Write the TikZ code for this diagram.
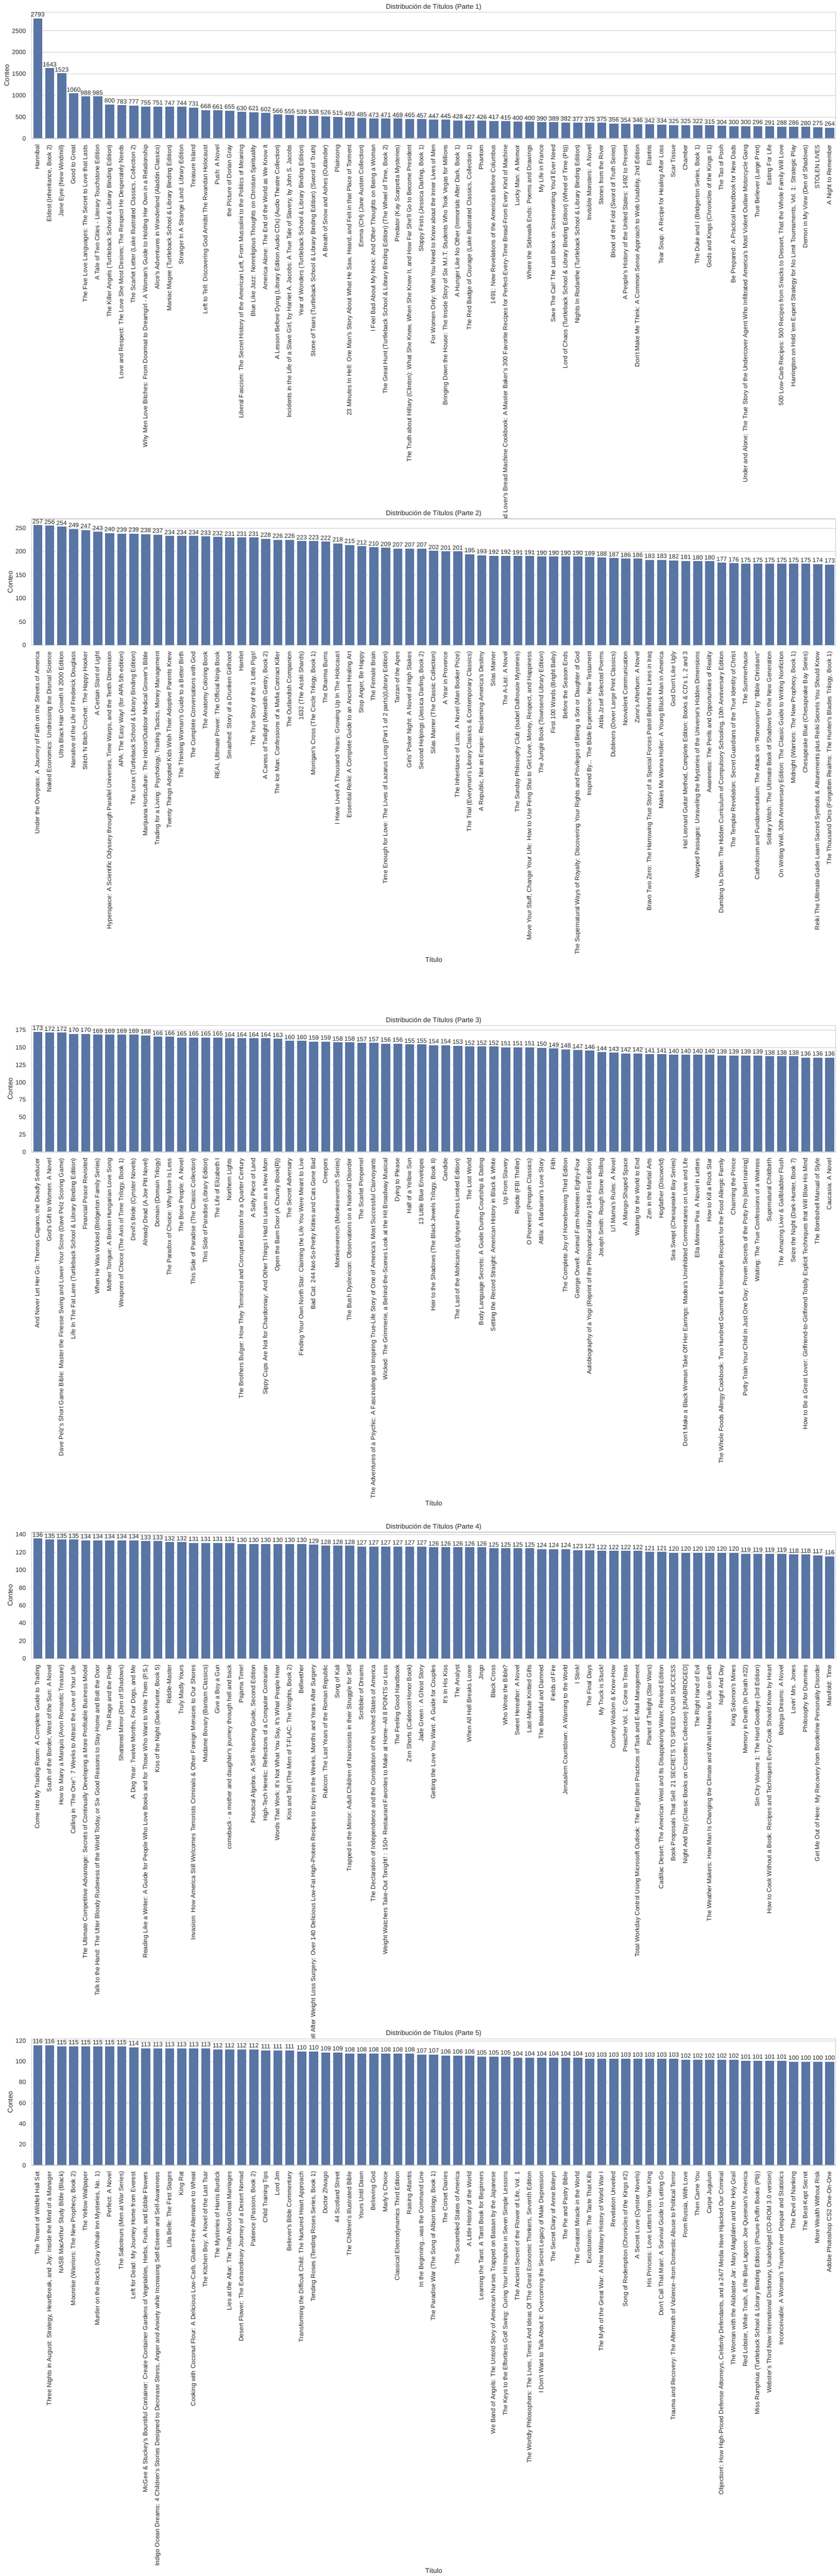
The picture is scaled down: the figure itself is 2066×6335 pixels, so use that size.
\documentclass[tikz,border=0pt]{standalone}
\usepackage{fontspec}
\newfontfamily\plotfont{Liberation Sans}
\definecolor{barblue}{HTML}{5875A4}
\definecolor{gridgray}{HTML}{CCCCCC}
\definecolor{inkgray}{HTML}{262626}

\tikzset{
  bookbar/.style={fill=barblue, draw=white, line width=1pt},
  gridline/.style={draw=gridgray, line width=1.4pt},
  spine/.style={draw=gridgray, line width=1.75pt},
  countlbl/.style={anchor=east, inner sep=0pt, text=inkgray, font=\plotfont\fontsize{15.3}{18}\selectfont},
  barval/.style={anchor=base, inner sep=0pt, yshift=3pt, text=inkgray, font=\plotfont\fontsize{15.3}{18}\selectfont},
  titlelbl/.style={anchor=east, rotate=90, inner sep=0pt, text height=11pt, text depth=3.2pt, text=inkgray, font=\plotfont\fontsize{15.3}{18}\selectfont},
  paneltitle/.style={anchor=base, inner sep=0pt, text=inkgray, font=\plotfont\fontsize{16.7}{20}\selectfont},
  axlabel/.style={inner sep=0pt, text=inkgray, font=\plotfont\fontsize{16.7}{20}\selectfont},
}

% one panel: #1 part, #2 top of axes, #3 y max, #4 ticks, #5 x of "Conteo", #6 count/title list
\newcommand{\drawpart}[6]{%
  \pgfmathsetmacro{\ptop}{#2}%
  \pgfmathsetmacro{\pbot}{#2+311}%
  \pgfmathsetmacro{\pk}{311/#3}%
  \fill[white] (78,\ptop) rectangle (2056,\pbot);
  % grid lines and counts
  \foreach \tk in {#4}{
    \draw[gridline] (78,\pbot-\tk*\pk) -- (2056,\pbot-\tk*\pk);
    \node[countlbl] at (64,\pbot-\tk*\pk) {\tk};
  }
  % bars
  \foreach \cnt/\ttl [count=\bi] in {#6}{
    \pgfmathsetmacro{\xc}{78+29.522*(\bi-0.5)}
    \pgfmathsetmacro{\yt}{\pbot-\cnt*\pk}
    \draw[bookbar] (\xc-11.8,\yt) rectangle (\xc+11.8,\pbot);
  }
  \draw[spine] (78,\ptop) rectangle (2056,\pbot);
  % counts on top and titles below
  \begin{scope}[local bounding box=ticks#1]
    \foreach \cnt/\ttl [count=\bi] in {#6}{
      \pgfmathsetmacro{\xc}{78+29.522*(\bi-0.5)}
      \pgfmathsetmacro{\yt}{\pbot-\cnt*\pk}
      \node[barval] at (\xc,\yt) {\cnt};
      \node[titlelbl] at (\xc,\pbot+15) {\ttl};
    }
  \end{scope}
  \node[paneltitle] (title#1) at (1067,\ptop-8.3) {Distribución de Títulos (Parte #1)};
  \node[axlabel, rotate=90] (conteo#1) at (#5,\ptop+155.5) {Conteo};
  \node[axlabel, below=5.6pt] (xlabel#1) at (1067,0 |- ticks#1.south) {Título};
}

\begin{document}
\begin{tikzpicture}[x=1pt, y=-1pt]
\fill[white] (0,0) rectangle (2066,6335);

\drawpart{1}{30}{2932.65}{0,500,...,2500}{16.7}{
2793/{Hannibal},
1643/{Eldest (Inheritance, Book 2)},
1523/{Jane Eyre (New Windmill)},
1060/{Good to Great},
988/{The Five Love Languages: The Secret to Love that Lasts},
985/{A Tale of Two Cities - Literary Touchstone Edition},
800/{The Killer Angels (Turtleback School \& Library Binding Edition)},
783/{Love and Respect: The Love She Most Desires; The Respect He Desperately Needs},
777/{The Scarlet Letter (Lake Illustrated Classics, Collection 2)},
755/{Why Men Love Bitches: From Doormat to Dreamgirl - A Woman's Guide to Holding Her Own in a Relationship},
751/{Alice's Adventures in Wonderland (Aladdin Classics)},
747/{Maniac Magee (Turtleback School \& Library Binding Edition)},
744/{Stranger In A Strange Land: Library Edition},
731/{Treasure Island},
668/{Left to Tell: Discovering God Amidst The Rwandan Holocaust},
661/{Push: A Novel},
655/{the Picture of Dorian Gray},
630/{Liberal Fascism: The Secret History of the American Left, From Mussolini to the Politics of Meaning},
621/{Blue Like Jazz: Nonreligious Thoughts on Christian Spirituality},
602/{America Alone: The End of the World as We Know It},
566/{A Lesson Before Dying (Library Edition Audio CDs) (Audio Theatre Collection)},
555/{Incidents in the Life of a Slave Girl, by Harriet A. Jacobs: A True Tale of Slavery, by John S. Jacobs},
539/{Year of Wonders (Turtleback School \& Library Binding Edition)},
538/{Stone of Tears (Turtleback School \& Library Binding Edition) (Sword of Truth)},
526/{A Breath of Snow and Ashes (Outlander)},
515/{Plainsong},
493/{23 Minutes In Hell: One Man's Story About What He Saw, Heard, and Felt in that Place of Torment},
485/{Emma (CH) (Jane Austen Collection)},
473/{I Feel Bad About My Neck: And Other Thoughts on Being a Woman},
471/{The Great Hunt (Turtleback School \& Library Binding Edition) (The Wheel of Time, Book 2)},
469/{Predator (Kay Scarpetta Mysteries)},
465/{The Truth about Hillary (Clinton): What She Knew, When She Knew It, and How Far She'll Go to Become President},
457/{Sloppy Firsts (Jessica Darling, Book 1)},
447/{For Women Only: What You Need to Know about the Inner Lives of Men},
445/{Bringing Down the House: The Inside Story of Six M.I.T. Students Who Took Vegas for Millions},
428/{A Hunger Like No Other (Immortals After Dark, Book 1)},
427/{The Red Badge of Courage (Lake Illustrated Classics, Collection 1)},
426/{Phantom},
417/{1491: New Revelations of the Americas Before Columbus},
415/{The Bread Lover's Bread Machine Cookbook: A Master Baker's 300 Favorite Recipes for Perfect-Every-Time Bread-From Every Kind of Machine},
400/{Lucky Man: A Memoir},
400/{Where the Sidewalk Ends: Poems and Drawings},
390/{My Life in France},
389/{Save The Cat! The Last Book on Screenwriting You'll Ever Need},
382/{Lord of Chaos (Turtleback School \& Library Binding Edition) (Wheel of Time (Pb))},
377/{Nights In Rodanthe (Turtleback School \& Library Binding Edition)},
375/{Invisible Monsters: A Novel},
375/{Stones from the River},
356/{Blood of the Fold (Sword of Truth Series)},
354/{A People's History of the United States: 1492 to Present},
346/{Don't Make Me Think: A Common Sense Approach to Web Usability, 2nd Edition},
342/{Elantris},
334/{Tear Soup: A Recipe for Healing After Loss},
325/{Scar Tissue},
325/{Chamber},
322/{The Duke and I (Bridgerton Series, Book 1)},
315/{Gods and Kings (Chronicles of the Kings \#1)},
304/{The Tao of Pooh},
300/{Be Prepared: A Practical Handbook for New Dads},
300/{Under and Alone: The True Story of the Undercover Agent Who Infiltrated America's Most Violent Outlaw Motorcycle Gang},
296/{True Believer (Large Print)},
291/{Eating For Life},
288/{500 Low-Carb Recipes: 500 Recipes from Snacks to Dessert, That the Whole Family Will Love},
286/{Harrington on Hold 'em Expert Strategy for No Limit Tournaments, Vol. 1: Strategic Play},
280/{Demon in My View (Den of Shadows)},
275/{STOLEN LIVES},
264/{A Night to Remember}}

\drawpart{2}{1276}{269.85}{0,50,...,250}{25}{
257/{Under the Overpass: A Journey of Faith on the Streets of America},
256/{Naked Economics: Undressing the Dismal Science},
254/{Ultra Black Hair Growth II 2000 Edition},
249/{Narrative of the Life of Frederick Douglass},
247/{Stitch 'N Bitch Crochet: The Happy Hooker},
243/{A Certain Slant of Light},
240/{Hyperspace: A Scientific Odyssey through Parallel Universes, Time Warps, and the Tenth Dimension},
239/{APA: The Easy Way! (for APA 5th edition)},
239/{The Lorax (Turtleback School \& Library Binding Edition)},
238/{Marijuana Horticulture: The Indoor/Outdoor Medical Grower's Bible},
237/{Trading for a Living: Psychology, Trading Tactics, Money Management},
234/{Twenty Things Adopted Kids Wish Their Adoptive Parents Knew},
234/{The Thinking Woman's Guide to a Better Birth},
234/{The Complete Conversations with God},
233/{The Anatomy Coloring Book},
232/{REAL Ultimate Power: The Official Ninja Book},
231/{Smashed: Story of a Drunken Girlhood},
231/{Hamlet},
231/{The True Story of the 3 Little Pigs!},
228/{A Caress of Twilight (Meredith Gentry, Book 2)},
226/{The Ice Man: Confessions of a Mafia Contract Killer},
226/{The Outlandish Companion},
223/{1632 (The Assiti Shards)},
223/{Morrigan's Cross (The Circle Trilogy, Book 1)},
222/{The Dharma Bums},
218/{I Have Lived A Thousand Years: Growing Up In The Holocaust},
215/{Essential Reiki: A Complete Guide to an Ancient Healing Art},
212/{Stop Anger, Be Happy},
210/{The Female Brain},
209/{Time Enough for Love: The Lives of Lazarus Long (Part 1 of 2 parts)(Library Edition)},
207/{Tarzan of the Apes},
207/{Girls' Poker Night: A Novel of High Stakes},
207/{Second Helpings (Jessica Darling, Book 2)},
202/{Silas Marner (The Classic Collection)},
201/{A Year in Provence},
201/{The Inheritance of Loss: A Novel (Man Booker Prize)},
195/{The Trial (Everyman's Library Classics \& Contemporary Classics)},
193/{A Republic, Not an Empire: Reclaiming America's Destiny},
192/{Silas Marner},
192/{The A-List: A Novel},
191/{The Sunday Philosophy Club (Isabel Dalhousie Mysteries)},
191/{Move Your Stuff, Change Your Life: How to Use Feng Shui to Get Love, Money, Respect, and Happiness},
190/{The Jungle Book (Townsend Library Edition)},
190/{First 100 Words (Bright Baby)},
190/{Before the Season Ends},
190/{The Supernatural Ways of Royalty: Discovering Your Rights and Privileges of Being a Son or Daughter of God},
189/{Inspired By... The Bible Experience: New Testament},
188/{Attila Jzsef Selected Poems},
187/{Dubliners (Dover Large Print Classics)},
186/{Nonviolent Communication},
186/{Zane's Afterburn: A Novel},
183/{Bravo Two Zero: The Harrowing True Story of a Special Forces Patrol Behind the Lines in Iraq},
183/{Makes Me Wanna Holler: A Young Black Man in America},
182/{God Don't Like Ugly},
181/{Hal Leonard Guitar Method, Complete Edition: Books \& CD's 1, 2 and 3},
180/{Warped Passages: Unraveling the Mysteries of the Universe's Hidden Dimensions},
180/{Awareness: The Perils and Opportunities of Reality},
177/{Dumbing Us Down: The Hidden Curriculum of Compulsory Schooling, 10th Anniversary Edition},
176/{The Templar Revelation: Secret Guardians of the True Identity of Christ},
175/{The Summerhouse},
175/{Catholicism and Fundamentalism: The Attack on "Romanism" by "Bible Christians"},
175/{Solitary Witch: The Ultimate Book of Shadows for the New Generation},
175/{On Writing Well, 30th Anniversary Edition: The Classic Guide to Writing Nonfiction},
175/{Midnight (Warriors: The New Prophecy, Book 1)},
175/{Chesapeake Blue (Chesapeake Bay Series)},
174/{Reiki The Ultimate Guide Learn Sacred Symbols \& Attunements plus Reiki Secrets You Should Know},
173/{The Thousand Orcs (Forgotten Realms: The Hunter's Blades Trilogy, Book 1)}}

\drawpart{3}{2522}{181.65}{0,25,...,175}{25}{
173/{And Never Let Her Go: Thomas Capano, the Deadly Seducer},
172/{God's Gift to Women: A Novel},
172/{Dave Pelz's Short Game Bible: Master the Finesse Swing and Lower Your Score (Dave Pelz Scoring Game)},
170/{Life In The Fat Lane (Turtleback School \& Library Binding Edition)},
170/{Financial Peace Revisited},
169/{When He Was Wicked (Bridgerton Family Series)},
169/{Mother Tongue: A Broken Hungarian Love Song},
169/{Weapons of Choice (The Axis of Time Trilogy, Book 1)},
169/{Devil's Bride (Cynster Novels)},
168/{Already Dead (A Joe Pitt Novel)},
166/{Domain (Domain Trilogy)},
166/{The Paradox of Choice: Why More Is Less},
165/{The Bone People: A Novel},
165/{This Side of Paradise (The Classic Collection)},
165/{This Side of Paradise (Library Edition)},
165/{The Life of Elizabeth I},
164/{Northern Lights},
164/{The Brothers Bulger: How They Terrorized and Corrupted Boston for a Quarter Century},
164/{A Salty Piece of Land},
164/{Sippy Cups Are Not for Chardonnay: And Other Things I Had to Learn as a New Mom},
163/{Open the Barn Door (A Chunky Book(R))},
160/{The Secret Adversary},
160/{Finding Your Own North Star: Claiming the Life You Were Meant to Live},
159/{Bad Cat: 244 Not-So-Pretty Kitties and Cats Gone Bad},
159/{Creepers},
158/{Monkeewrench (Monkeewrench Series)},
158/{The Bush Dyslexicon: Observations on a National Disorder},
157/{The Scarlet Pimpernel},
157/{The Adventures of a Psychic: A Fascinating and Inspiring True-Life Story of One of America's Most Successful Clairvoyants},
156/{Wicked: The Grimmerie, a Behind-the-Scenes Look at the Hit Broadway Musical},
156/{Dying to Please},
155/{Half of a Yellow Sun},
155/{13 Little Blue Envelopes},
154/{Heir to the Shadows (The Black Jewels Trilogy, Book II)},
154/{Candide},
153/{The Last of the Mohicans (Lightyear Press Limited Edition)},
152/{The Lost World},
152/{Body Language Secrets: A Guide During Courtship \& Dating},
152/{Setting the Record Straight: American History in Black \& White},
151/{Up From Slavery},
151/{Riptide (FBI Thriller)},
151/{O Pioneers! (Penguin Classics)},
150/{Attila: A Barbarian's Love Story},
149/{Filth},
148/{The Complete Joy of Homebrewing Third Edition},
147/{George Orwell: Animal Farm-Nineteen Eighty-Four},
146/{Autobiography of a Yogi (Reprint of the Philosophical library 1946 First Edition)},
144/{Joseph Smith: Rough Stone Rolling},
143/{Li'l Mama's Rules: A Novel},
142/{A Mango-Shaped Space},
142/{Waiting for the World to End},
141/{Zen in the Martial Arts},
141/{Hogfather (Discworld)},
140/{Sea Swept (Chesapeake Bay Series)},
140/{Don't Make a Black Woman Take Off Her Earrings: Madea's Uninhibited Commentaries on Love and Life},
140/{Ella Minnow Pea: A Novel in Letters},
140/{How to Kill a Rock Star},
139/{The Whole Foods Allergy Cookbook: Two Hundred Gourmet \& Homestyle Recipes for the Food Allergic Family},
139/{Charming the Prince},
139/{Potty Train Your Child in Just One Day: Proven Secrets of the Potty Pro [toilet training]},
139/{Waiting: The True Confessions of a Waitress},
138/{Supernatural Childbirth},
138/{The Amazing Liver \& Gallbladder Flush},
138/{Seize the Night (Dark-Hunter, Book 7)},
136/{How to Be a Great Lover: Girlfriend-to-Girlfriend Totally Explicit Techniques that Will Blow His Mind},
136/{The Bombshell Manual of Style},
136/{Caucasia: A Novel}}

\drawpart{4}{3768}{142.8}{0,20,...,140}{25}{
136/{Come Into My Trading Room: A Complete Guide to Trading},
135/{South of the Border, West of the Sun: A Novel},
135/{How to Marry a Marquis (Avon Romantic Treasure)},
135/{Calling in "The One": 7 Weeks to Attract the Love of Your Life},
134/{The Ultimate Competitive Advantage: Secrets of Continually Developing a More Profitable Business Model},
134/{Talk to the Hand: The Utter Bloody Rudeness of the World Today, or Six Good Reasons to Stay Home and Bolt the Door},
134/{The Rage and the Pride},
134/{Shattered Mirror (Den of Shadows)},
134/{A Dog Year: Twelve Months, Four Dogs, and Me},
133/{Reading Like a Writer: A Guide for People Who Love Books and for Those Who Want to Write Them (P.S.)},
133/{Kiss of the Night (Dark-Hunter, Book 5)},
132/{Riddle-Master},
132/{Truly Madly Yours},
131/{Invasion: How America Still Welcomes Terrorists Criminals \& Other Foreign Menaces to Our Shores},
131/{Madame Bovary (Bantam Classics)},
131/{Give a Boy a Gun},
131/{comeback - a mother and daughter's journey through hell and back},
130/{Pajama Time!},
130/{Practical Algebra: A Self-Teaching Guide, Second Edition},
130/{High-Tech Heretic: Reflections of a Computer Contrarian},
130/{Words That Work: It's Not What You Say, It's What People Hear},
130/{Kiss and Tell (The Men of T-FLAC: The Wrights, Book 2)},
130/{Bellwether},
129/{Eating Well After Weight Loss Surgery: Over 140 Delicious Low-Fat High-Protein Recipes to Enjoy in the Weeks, Months and Years After Surgery},
128/{Rubicon: The Last Years of the Roman Republic},
128/{Song of Kali},
128/{Trapped in the Mirror: Adult Children of Narcissists in their Struggle for Self},
127/{Scribbler of Dreams},
127/{The Declaration of Independence and the Constitution of the United States of America},
127/{Weight Watchers Take-Out Tonight! : 150+ Restaurant Favorites to Make at Home-{}-All 8 POINTS or Less},
127/{The Feeling Good Handbook},
127/{Zen Shorts (Caldecott Honor Book)},
127/{Jade Green : A Ghost Story},
126/{Getting the Love You Want: A Guide for Couples},
126/{It's In His Kiss},
126/{The Analyst},
126/{When All Hell Breaks Loose},
126/{Jingo},
125/{Black Cross},
125/{Who Wrote the Bible?},
125/{Sweet Hereafter: A Novel},
125/{Last-Minute Knitted Gifts},
124/{The Beautiful and Damned},
124/{Fields of Fire},
124/{Jerusalem Countdown: A Warning to the World},
123/{I Stink!},
123/{The Final Days},
122/{My Truck is Stuck!},
122/{Country Wisdom \& Know-How},
122/{Preacher Vol. 1: Gone to Texas},
122/{Total Workday Control Using Microsoft Outlook: The Eight Best Practices of Task and E-Mail Management},
121/{Planet of Twilight (Star Wars)},
121/{Cadillac Desert: The American West and Its Disappearing Water, Revised Edition},
120/{Book Proposals That Sell: 21 SECRETS TO SPEED YOUR SUCCESS},
120/{Night And Day (Classic Books on Cassettes Collection) [UNABRIDGED]},
120/{The Right Hand of Evil},
120/{The Weather Makers: How Man Is Changing the Climate and What It Means for Life on Earth},
120/{Night And Day},
120/{King Solomon's Mines},
119/{Memory in Death (In Death \#22)},
119/{Sin City Volume 1: The Hard Goodbye (3rd Edition)},
119/{How to Cook Without a Book: Recipes and Techniques Every Cook Should Know by Heart},
119/{Bodega Dreams: A Novel},
118/{Lovin' Mrs. Jones},
118/{Philosophy for Dummies},
117/{Get Me Out of Here: My Recovery from Borderline Personality Disorder},
116/{Manifold: Time}}

\drawpart{5}{5014}{121.8}{0,20,...,120}{25}{
116/{The Tenant of Wildfell Hall Set},
116/{Three Nights in August: Strategy, Heartbreak, and Joy: Inside the Mind of a Manager},
115/{NASB MacArthur Study Bible (Black)},
115/{Moonrise (Warriors: The New Prophecy, Book 2)},
115/{The Yellow Wallpaper},
115/{Murder on the Rocks (Gray Whale Inn Mysteries, No. 1)},
115/{Perfect: A Novel},
115/{The Saboteurs (Men at War Series)},
114/{Left for Dead: My Journey Home from Everest},
113/{McGee \& Stuckey's Bountiful Container: Create Container Gardens of Vegetables, Herbs, Fruits, and Edible Flowers},
113/{Indigo Ocean Dreams: 4 Children's Stories Designed to Decrease Stress, Anger and Anxiety while Increasing Self-Esteem and Self-Awareness},
113/{Lilla Belle: The First Stages},
113/{King Rat},
113/{Cooking with Coconut Flour: A Delicious Low-Carb, Gluten-Free Alternative to Wheat},
113/{The Kitchen Boy: A Novel of the Last Tsar},
112/{The Mysteries of Harris Burdick},
112/{Lies at the Altar: The Truth About Great Marriages},
112/{Desert Flower: The Extraordinary Journey of a Desert Nomad},
112/{Patience (Passion, Book 2)},
111/{Child Training Tips},
111/{Lord Jim},
111/{Believer's Bible Commentary},
110/{Transforming the Difficult Child: The Nurtured Heart Approach},
110/{Tending Roses (Tending Roses Series, Book 1)},
109/{Doctor Zhivago},
109/{44 Scotland Street},
108/{The Children's Illustrated Bible},
108/{Yours Until Dawn},
108/{Believing God},
108/{Marly's Choice},
108/{Classical Electrodynamics Third Edition},
108/{Raising Atlantis},
107/{In the Beginning...was the Command Line},
107/{The Paradise War (The Song of Albion trilogy, Book 1)},
106/{The Corset Diaries},
106/{The Scrambled States of America},
106/{A Little History of the World},
105/{Learning the Tarot: A Tarot Book for Beginners},
105/{We Band of Angels: The Untold Story of American Nurses Trapped on Bataan by the Japanese},
105/{The Keys to the Effortless Golf Swing: Curing Your Hit Impulse in Seven Simple Lessons},
104/{The Ancient Secret of the Flower of Life, Vol. 1},
104/{The Worldly Philosophers: The Lives, Times And Ideas Of The Great Economic Thinkers, Seventh Edition},
104/{I Don't Want to Talk About It: Overcoming the Secret Legacy of Male Depression},
104/{The Secret Diary of Anne Boleyn},
104/{The Pie and Pastry Bible},
104/{The Greatest Miracle in the World},
103/{Excitotoxins: The Taste That Kills},
103/{The Myth of the Great War: A New Military History of World War I},
103/{Revelation Unveiled},
103/{Song of Redemption (Chronicles of the Kings \#2)},
103/{A Secret Love (Cynster Novels)},
103/{His Princess: Love Letters from Your King},
103/{Don't Call That Man!: A Survival Guide to Letting Go},
103/{Trauma and Recovery: The Aftermath of Violence-{}-from Domestic Abuse to Political Terror},
102/{From Russia, With Love},
102/{Then Came You},
102/{Carpe Jugulum},
102/{Objection!: How High-Priced Defense Attorneys, Celebrity Defendants, and a 24/7 Media Have Hijacked Our Criminal},
102/{The Woman with the Alabaster Jar: Mary Magdalen and the Holy Grail},
101/{Red Lobster, White Trash, \& the Blue Lagoon: Joe Queenan's America},
101/{Miss Rumphius (Turtleback School \& Library Binding Edition) (Picture Puffin Books (Pb))},
101/{Webster's Third New International Dictionary, Unabridged (CD-ROM 3.0 version)},
101/{Inconceivable: A Woman's Triumph over Despair and Statistics},
100/{The Devil of Nanking},
100/{The Best-Kept Secret},
100/{More Wealth Without Risk},
100/{Adobe Photoshop CS2 One-On-One}}

% fix the page to the reference size
\pgfresetboundingbox
\useasboundingbox (0,0) rectangle (2066,6335);
\end{tikzpicture}
\end{document}
